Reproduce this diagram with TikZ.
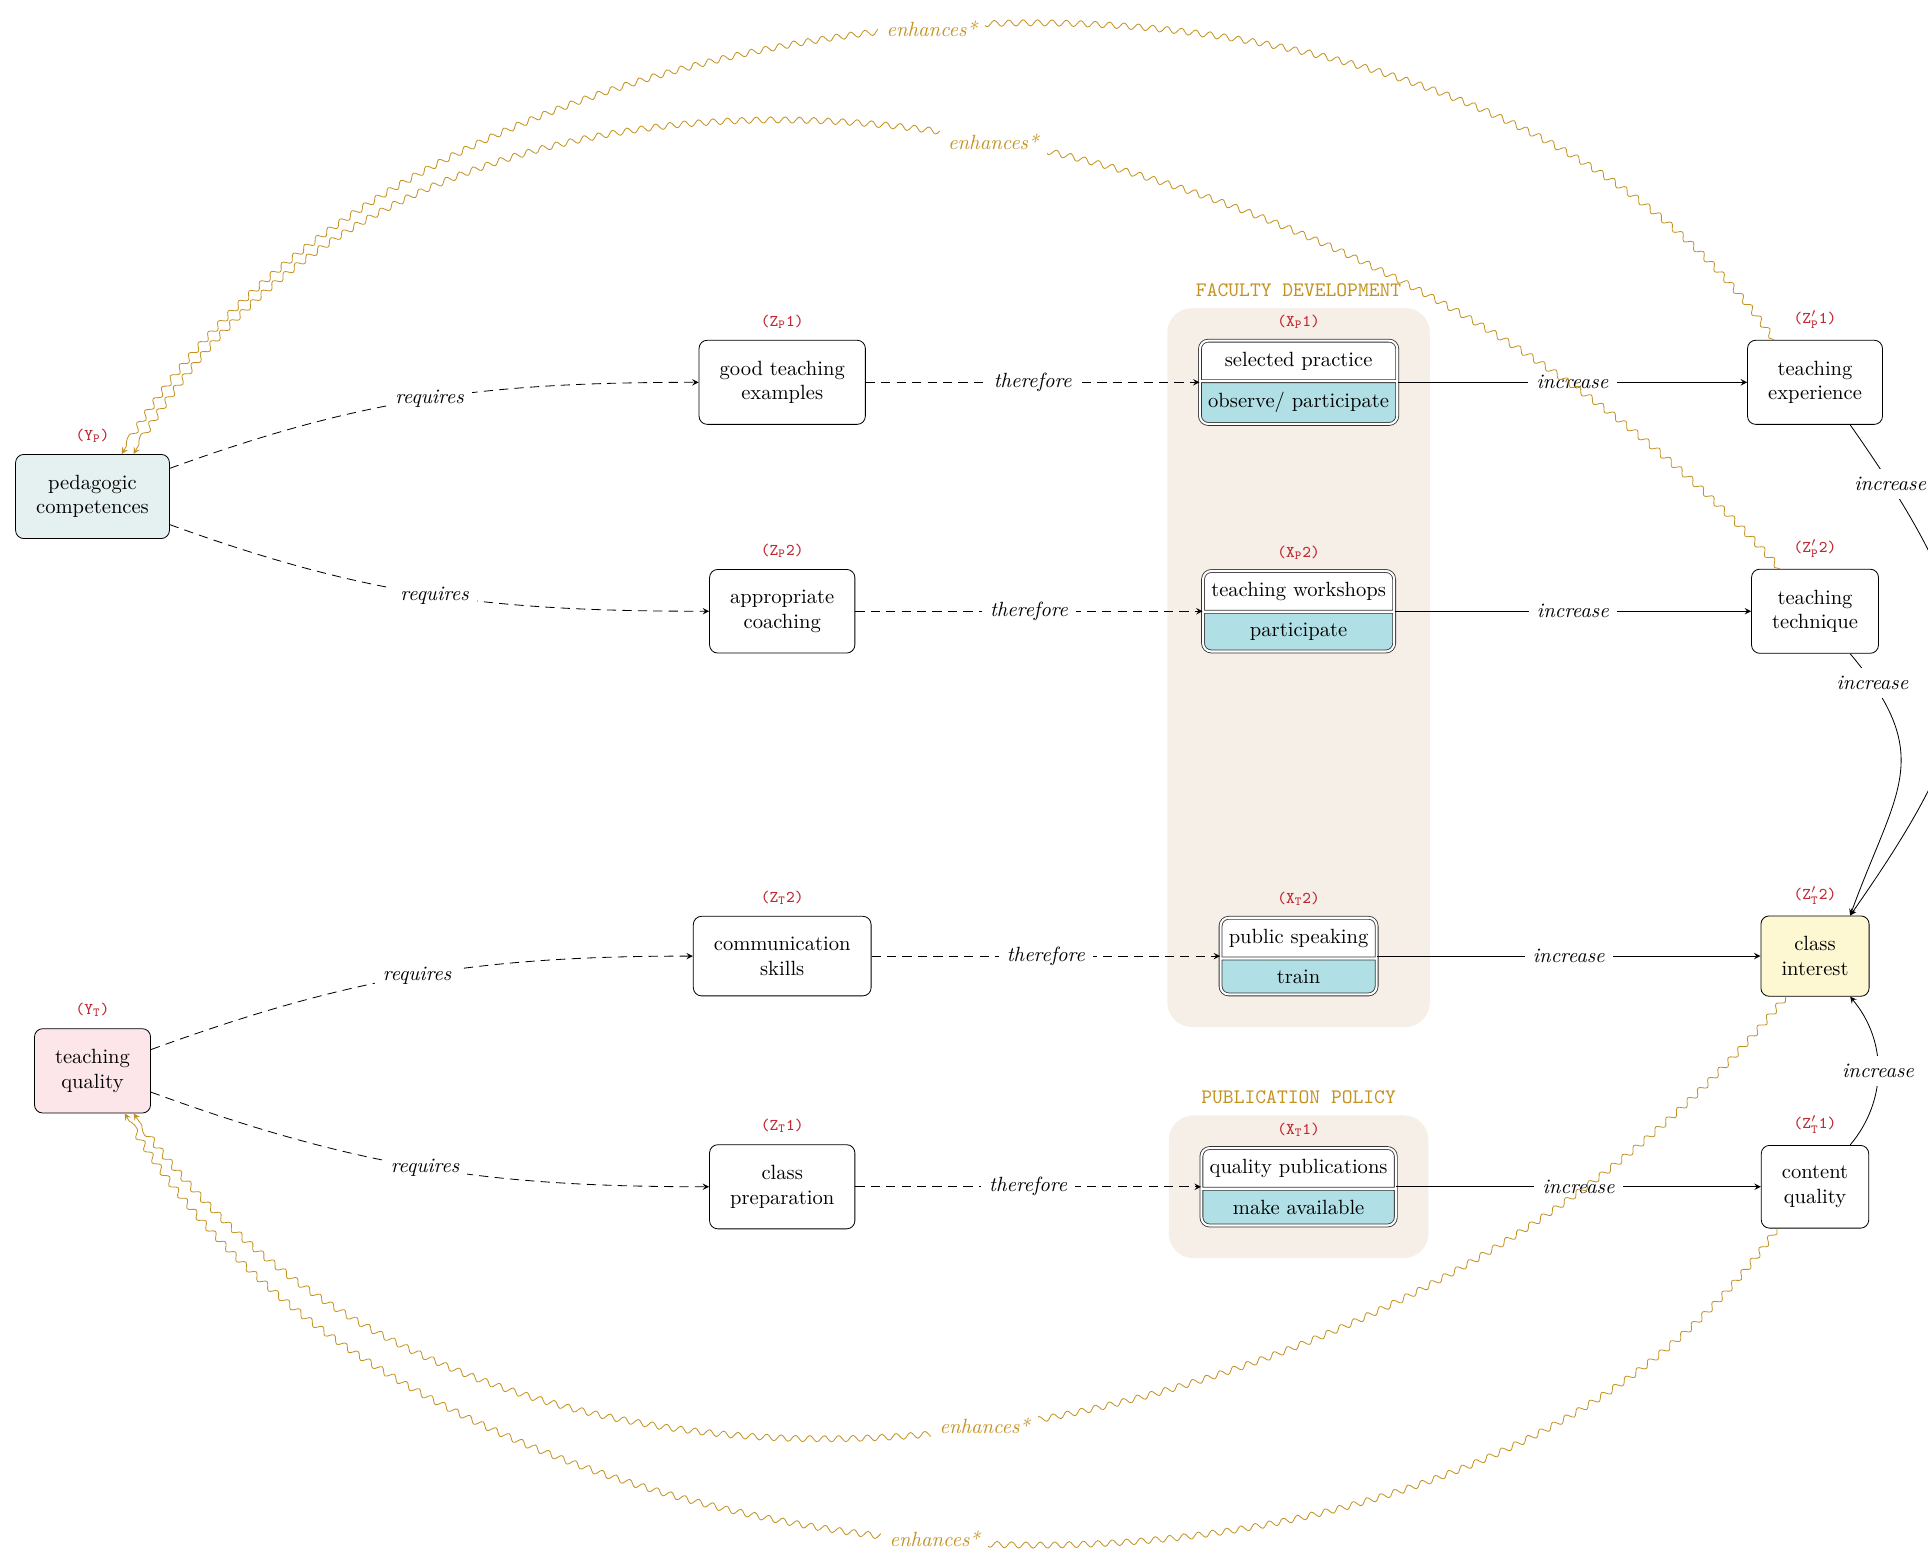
\documentclass[tikz,border=0pt]{standalone}
\usetikzlibrary{shapes.multipart,decorations.pathmorphing,fit,backgrounds}

\definecolor{tagred}{RGB}{192,40,50}
\definecolor{gold}{RGB}{196,146,32}
\definecolor{areabg}{RGB}{245,239,232}
\definecolor{actblue}{RGB}{176,223,229}
\definecolor{pedfill}{RGB}{228,241,240}
\definecolor{qualfill}{RGB}{252,230,234}
\definecolor{intfill}{RGB}{253,248,210}

\begin{document}
\begin{tikzpicture}[>=stealth, line join=round, label distance=2pt,
  box/.style={draw, rounded corners=4pt, align=center, inner sep=10pt},
  act/.style={rectangle split, rectangle split parts=2, draw=black!80, double, double distance=1pt,
    rounded corners=4pt, inner xsep=4pt, inner ysep=5.2pt, rectangle split part fill={white,actblue}},
  tag/.style={font=\ttfamily\footnotesize, text=tagred},
  ttl/.style={font=\ttfamily, text=gold},
  area/.style={fill=areabg, rounded corners=12pt, inner sep=0.55cm},
  lbl/.style={fill=white, font=\itshape, inner sep=4pt},
  wlbl/.style={lbl, text=gold},
  cause/.style={->, dash pattern=on 4.5pt off 3pt},
  wavy/.style={->, draw=gold, decorate, decoration={snake, amplitude=1.5pt, segment length=7pt, post length=2mm}}]
  \useasboundingbox (0,0) rectangle (32.93,-26.48);

  % goals
  \node[box, fill=pedfill, label={[tag]above:(Y$_\mathtt{P}$)}] (yp) at (1.58,-8.48) {pedagogic\\competences};
  \node[box, fill=qualfill, label={[tag]above:(Y$_\mathtt{T}$)}] (yt) at (1.58,-18.29) {teaching\\quality};

  % requirements
  \node[box, label={[tag]above:(Z$_\mathtt{P}$1)}] (zp1) at (13.36,-6.53) {good teaching\\examples};
  \node[box, label={[tag]above:(Z$_\mathtt{P}$2)}] (zp2) at (13.36,-10.44) {appropriate\\coaching};
  \node[box, label={[tag]above:(Z$_\mathtt{T}$2)}] (zt2) at (13.36,-16.33) {communication\\skills};
  \node[box, label={[tag]above:(Z$_\mathtt{T}$1)}] (zt1) at (13.36,-20.27) {class\\preparation};

  % measures
  \node[act, label={[tag]above:(X$_\mathtt{P}$1)}] (xp1) at (22.18,-6.53) {selected practice\nodepart{second}observe/ participate};
  \node[act, label={[tag]above:(X$_\mathtt{P}$2)}] (xp2) at (22.18,-10.44) {teaching workshops\nodepart{second}participate};
  \node[act, label={[tag]above:(X$_\mathtt{T}$2)}] (xt2) at (22.18,-16.33) {public speaking\nodepart{second}train};
  \node[act, label={[tag]above:(X$_\mathtt{T}$1)}] (xt1) at (22.18,-20.27) {quality publications\nodepart{second}make available};

  % outcomes
  \node[box, label={[tag]above:(Z$'_\mathtt{P}$1)}] (op1) at (31.0,-6.53) {teaching\\experience};
  \node[box, label={[tag]above:(Z$'_\mathtt{P}$2)}] (op2) at (31.0,-10.44) {teaching\\technique};
  \node[box, fill=intfill, label={[tag]above:(Z$'_\mathtt{T}$2)}] (ot2) at (31.0,-16.33) {class\\interest};
  \node[box, label={[tag]above:(Z$'_\mathtt{T}$1)}] (ot1) at (31.0,-20.27) {content\\quality};

  \begin{scope}[on background layer]
    \node[area, fit=(xp1)(xt2), label={[ttl]above:FACULTY DEVELOPMENT}] (fd) {};
    \node[area, fit=(xt1), label={[ttl]above:PUBLICATION POLICY}] (pp) {};
  \end{scope}

  \draw[cause] (yp.20) to[out=20,in=180] node[lbl]{requires} (zp1.west);
  \draw[cause] (yp.-20) to[out=-20,in=180] node[lbl]{requires} (zp2.west);
  \draw[cause] (yt.20) to[out=20,in=180] node[lbl]{requires} (zt2.west);
  \draw[cause] (yt.-20) to[out=-20,in=180] node[lbl]{requires} (zt1.west);

  \draw[cause] (zp1) -- node[lbl]{therefore} (xp1);
  \draw[cause] (zp2) -- node[lbl]{therefore} (xp2);
  \draw[cause] (zt2) -- node[lbl]{therefore} (xt2);
  \draw[cause] (zt1) -- node[lbl]{therefore} (xt1);

  \draw[->] (xp1) -- node[lbl]{increase} (op1);
  \draw[->] (xp2) -- node[lbl]{increase} (op2);
  \draw[->] (xt2) -- node[lbl]{increase} (ot2);
  \draw[->] (xt1) -- node[lbl]{increase} (ot1);

  \draw[->] ([xshift=6mm]op1.south) to[out=-55,in=55,looseness=1.35] node[lbl,pos=0.1]{increase} ([xshift=6mm]ot2.north);
  \draw[->] ([xshift=6mm]op2.south) to[out=-50,in=70,looseness=1.32] node[lbl,pos=0.1]{increase} ([xshift=6mm]ot2.north);
  \draw[->] ([xshift=6mm]ot1.north) to[bend right=40] node[lbl]{increase} ([xshift=6mm]ot2.south);

  % feedback
  \draw[wavy] ([xshift=-7mm]op1.north) to[out=125,in=60,looseness=0.9] node[wlbl]{enhances*} ([xshift=5mm]yp.north);
  \draw[wavy] ([xshift=-6mm]op2.north) to[out=132,in=60,looseness=0.98] node[wlbl,pos=0.46]{enhances*} ([xshift=7mm]yp.north);
  \draw[wavy] ([xshift=-5mm]ot2.south) to[out=-129,in=-55,looseness=0.97] node[wlbl,pos=0.48]{enhances*} ([xshift=7mm]yt.south);
  \draw[wavy] ([xshift=-6.5mm]ot1.south) to[out=-125,in=-60,looseness=0.9] node[wlbl]{enhances*} ([xshift=5.5mm]yt.south);
\end{tikzpicture}
\end{document}
